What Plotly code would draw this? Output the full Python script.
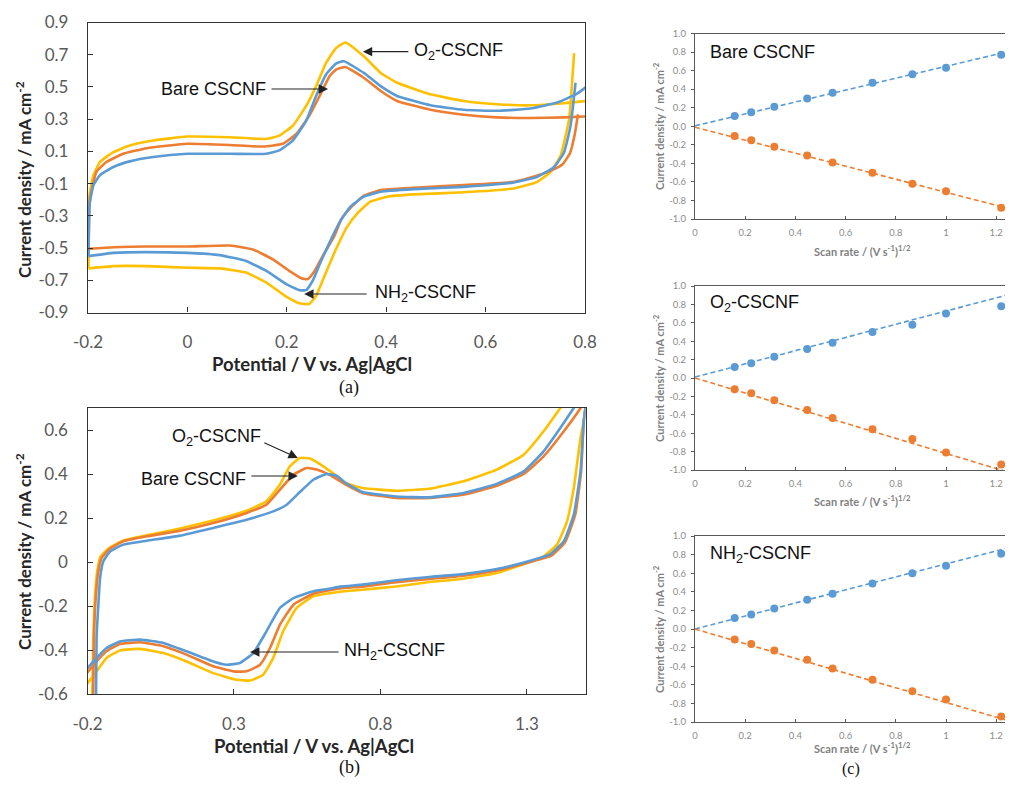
import plotly.graph_objects as go

BLUE = '#5B9BD5'
ORANGE = '#ED7D31'
YELLOW = '#FFC000'

# ---------------- Panel (a): CV, potential window -0.2 .. 0.8 V ----------------
a_bare_x = [-0.199, -0.198, -0.196, -0.183, -0.163, -0.129, -0.082, 0.0, 0.085, 0.152, 0.192, 0.219, 0.245, 0.266, 0.286, 0.299, 0.318, 0.355, 0.389, 0.422, 0.489, 0.556, 0.623, 0.69, 0.758, 0.81,
            None,
            0.786, 0.779, 0.77, 0.755, 0.738, 0.704, 0.657, 0.556, 0.456, 0.389, 0.355, 0.33, 0.31, 0.295, 0.274, 0.256, 0.242, 0.229, 0.205, 0.172, 0.132, 0.085, 0.0, -0.082, -0.149, -0.199]
a_bare_y = [-0.505, -0.30, -0.19, -0.027, 0.034, 0.085, 0.12, 0.147, 0.14, 0.13, 0.147, 0.208, 0.32, 0.444, 0.567, 0.608, 0.624, 0.557, 0.475, 0.413, 0.358, 0.327, 0.311, 0.307, 0.311, 0.318,
            None,
            0.33, 0.2, 0.09, 0.02, -0.01, -0.05, -0.089, -0.109, -0.126, -0.14, -0.175, -0.245, -0.32, -0.43, -0.54, -0.642, -0.693, -0.687, -0.642, -0.57, -0.509, -0.484, -0.49, -0.49, -0.495, -0.505]

a_nh2_x = [-0.199, -0.198, -0.197, -0.189, -0.176, -0.149, -0.116, -0.069, 0.0, 0.085, 0.159, 0.185, 0.212, 0.239, 0.259, 0.279, 0.299, 0.315, 0.355, 0.389, 0.422, 0.489, 0.556, 0.623, 0.69, 0.744, 0.785, 0.81,
           None,
           0.781, 0.771, 0.758, 0.738, 0.704, 0.657, 0.556, 0.456, 0.389, 0.355, 0.328, 0.308, 0.29, 0.269, 0.252, 0.239, 0.225, 0.199, 0.159, 0.118, 0.065, 0.0, -0.082, -0.149, -0.199]
a_nh2_y = [-0.55, -0.35, -0.232, -0.109, -0.048, 0.003, 0.038, 0.065, 0.085, 0.085, 0.085, 0.106, 0.167, 0.29, 0.444, 0.577, 0.645, 0.66, 0.587, 0.505, 0.444, 0.386, 0.358, 0.352, 0.366, 0.403, 0.46, 0.52,
           None,
           0.526, 0.26, 0.095, 0.003, -0.058, -0.093, -0.12, -0.134, -0.15, -0.181, -0.243, -0.33, -0.44, -0.58, -0.704, -0.761, -0.761, -0.724, -0.642, -0.58, -0.544, -0.53, -0.525, -0.53, -0.55]

a_o2_x = [-0.199, -0.198, -0.197, -0.189, -0.176, -0.149, -0.116, -0.069, 0.0, 0.085, 0.159, 0.185, 0.212, 0.239, 0.259, 0.279, 0.299, 0.318, 0.355, 0.389, 0.422, 0.489, 0.556, 0.623, 0.69, 0.758, 0.81,
          None,
          0.778, 0.768, 0.751, 0.731, 0.704, 0.657, 0.556, 0.456, 0.402, 0.368, 0.342, 0.321, 0.300, 0.279, 0.259, 0.245, 0.225, 0.199, 0.159, 0.118, 0.065, 0.0, -0.082, -0.149, -0.199]
a_o2_y = [-0.626, -0.35, -0.171, -0.048, 0.034, 0.095, 0.136, 0.167, 0.192, 0.188, 0.177, 0.198, 0.259, 0.382, 0.505, 0.649, 0.741, 0.776, 0.69, 0.587, 0.526, 0.454, 0.413, 0.393, 0.386, 0.399, 0.415,
          None,
          0.71, 0.30, 0.075, -0.027, -0.089, -0.13, -0.154, -0.167, -0.181, -0.212, -0.284, -0.37, -0.50, -0.65, -0.796, -0.847, -0.843, -0.802, -0.714, -0.652, -0.626, -0.622, -0.612, -0.612, -0.626]

a_xtickvals = [-0.2, 0.0, 0.2, 0.4, 0.6, 0.8]
a_xticktext = ['-0.2', '0', '0.2', '0.4', '0.6', '0.8']
a_ytickvals = [0.9, 0.7, 0.5, 0.3, 0.1, -0.1, -0.3, -0.5, -0.7, -0.9]
a_yticktext = ['0.9', '0.7', '0.5', '0.3', '0.1', '-0.1', '-0.3', '-0.5', '-0.7', '-0.9']

# ---------------- Panel (b): CV, potential window -0.2 .. 1.5 V ----------------
b_bare_x = [-0.182, -0.178, -0.172, -0.163, -0.152, -0.123, -0.078, 0.002, 0.116, 0.229, 0.343, 0.411, 0.457, 0.503, 0.548, 0.582, 0.628, 0.682, 0.739, 0.854, 0.968, 1.083, 1.197, 1.289, 1.357, 1.426, 1.483, 1.50,
            None,
            1.505, 1.494, 1.485, 1.465, 1.43, 1.385, 1.311, 1.197, 1.083, 0.968, 0.854, 0.739, 0.662, 0.571, 0.503, 0.457, 0.423, 0.389, 0.343, 0.298, 0.229, 0.138, 0.059, -0.021, -0.089, -0.135, -0.169, -0.205]
b_bare_y = [-0.75, -0.345, -0.164, -0.042, 0.018, 0.061, 0.094, 0.117, 0.142, 0.177, 0.223, 0.261, 0.329, 0.397, 0.427, 0.42, 0.395, 0.352, 0.314, 0.291, 0.291, 0.306, 0.347, 0.40, 0.48, 0.594, 0.70, 0.74,
            None,
            0.74, 0.639, 0.412, 0.215, 0.09, 0.03, 0.0, -0.038, -0.062, -0.077, -0.092, -0.112, -0.12, -0.144, -0.194, -0.285, -0.391, -0.467, -0.497, -0.497, -0.474, -0.421, -0.383, -0.365, -0.373, -0.406, -0.452, -0.51]

b_nh2_x = [-0.172, -0.169, -0.163, -0.157, -0.146, -0.123, -0.078, 0.002, 0.116, 0.229, 0.343, 0.434, 0.48, 0.525, 0.571, 0.616, 0.65, 0.682, 0.739, 0.854, 0.968, 1.083, 1.197, 1.289, 1.357, 1.414, 1.46, 1.49,
           None,
           1.505, 1.494, 1.483, 1.46, 1.426, 1.38, 1.311, 1.197, 1.083, 0.968, 0.854, 0.739, 0.662, 0.625, 0.571, 0.503, 0.457, 0.411, 0.366, 0.32, 0.275, 0.229, 0.138, 0.059, -0.021, -0.089, -0.135, -0.169, -0.205]
b_nh2_y = [-0.75, -0.345, -0.194, -0.073, 0.003, 0.048, 0.079, 0.097, 0.12, 0.155, 0.192, 0.23, 0.26, 0.318, 0.374, 0.40, 0.392, 0.359, 0.318, 0.298, 0.294, 0.314, 0.355, 0.412, 0.503, 0.609, 0.70, 0.76,
           None,
           0.76, 0.639, 0.412, 0.215, 0.094, 0.036, 0.006, -0.032, -0.055, -0.068, -0.083, -0.103, -0.112, -0.122, -0.133, -0.164, -0.209, -0.315, -0.414, -0.459, -0.467, -0.452, -0.406, -0.368, -0.353, -0.361, -0.391, -0.436, -0.49]

b_o2_x = [-0.186, -0.18, -0.174, -0.166, -0.155, -0.123, -0.078, 0.002, 0.116, 0.229, 0.343, 0.411, 0.457, 0.491, 0.525, 0.559, 0.605, 0.65, 0.682, 0.739, 0.854, 0.968, 1.083, 1.197, 1.289, 1.357, 1.414, 1.44,
          None,
          1.505, 1.494, 1.483, 1.46, 1.437, 1.403, 1.357, 1.3, 1.197, 1.083, 0.968, 0.854, 0.739, 0.662, 0.571, 0.514, 0.468, 0.434, 0.40, 0.355, 0.309, 0.229, 0.138, 0.059, -0.021, -0.089, -0.135, -0.169, -0.205]
b_o2_y = [-0.75, -0.345, -0.148, -0.035, 0.026, 0.067, 0.097, 0.121, 0.152, 0.189, 0.233, 0.276, 0.352, 0.435, 0.473, 0.47, 0.435, 0.392, 0.359, 0.336, 0.324, 0.333, 0.367, 0.42, 0.488, 0.594, 0.70, 0.75,
          None,
          0.76, 0.64, 0.564, 0.336, 0.185, 0.079, 0.026, -0.005, -0.05, -0.076, -0.091, -0.111, -0.126, -0.135, -0.156, -0.209, -0.315, -0.436, -0.512, -0.539, -0.535, -0.505, -0.452, -0.414, -0.395, -0.402, -0.436, -0.497, -0.56]

b_xtickvals = [-0.2, 0.3, 0.8, 1.3]
b_xticktext = ['-0.2', '0.3', '0.8', '1.3']
b_ytickvals = [0.6, 0.4, 0.2, 0.0, -0.2, -0.4, -0.6]
b_yticktext = ['0.6', '0.4', '0.2', '0', '-0.2', '-0.4', '-0.6']

# ---------------- Panel (c): peak current vs sqrt(scan rate) ----------------
sqrt_scan = [0.158, 0.224, 0.316, 0.447, 0.548, 0.707, 0.866, 1.0, 1.22]

bare_anodic = [0.11, 0.15, 0.21, 0.30, 0.36, 0.47, 0.56, 0.63, 0.77]
bare_cathodic = [-0.106, -0.15, -0.22, -0.315, -0.39, -0.50, -0.62, -0.70, -0.88]
o2_anodic = [0.12, 0.16, 0.23, 0.315, 0.384, 0.50, 0.58, 0.70, 0.78]
o2_cathodic = [-0.123, -0.167, -0.243, -0.348, -0.435, -0.558, -0.663, -0.81, -0.94]
nh2_anodic = [0.118, 0.157, 0.22, 0.314, 0.38, 0.49, 0.60, 0.68, 0.81]
nh2_cathodic = [-0.114, -0.16, -0.232, -0.33, -0.425, -0.546, -0.67, -0.757, -0.94]

fit_x = [0.0, 1.24]
bare_anodic_fit = [0.005, 0.80]
bare_cathodic_fit = [-0.01, -0.88]
o2_anodic_fit = [0.01, 0.90]
o2_cathodic_fit = [0.0, -1.017]
nh2_anodic_fit = [0.0, 0.868]
nh2_cathodic_fit = [0.0, -0.98]

c_xtickvals = [0, 0.2, 0.4, 0.6, 0.8, 1.0, 1.2]
c_xticktext = ['0', '0.2', '0.4', '0.6', '0.8', '1', '1.2']
c_ytickvals = [1.0, 0.8, 0.6, 0.4, 0.2, 0.0, -0.2, -0.4, -0.6, -0.8, -1.0]
c_yticktext = ['1.0', '0.8', '0.6', '0.4', '0.2', '0.0', '-0.2', '-0.4', '-0.6', '-0.8', '-1.0']

# ---------------- Figure ----------------
# The page body keeps the browser's 8 px margin: the figure is 16 px smaller than the
# window and reference pixel positions are shifted by 8 px.
OFF = 8
W, H = 1013 - 2 * OFF, 787 - 2 * OFF


def px(X):
    return min(max((X - OFF) / W, 0.0), 1.0)


def py(Y):
    return min(max(1 - (Y - OFF) / H, 0.0), 1.0)


fig = go.Figure()


def cv(x, y, color, xa, ya, name):
    fig.add_trace(go.Scatter(x=x, y=y, mode='lines', name=name, showlegend=False,
                             line=dict(color=color, width=2.6, shape='spline', smoothing=0.4),
                             xaxis=xa, yaxis=ya, connectgaps=False, hoverinfo='skip'))


cv(a_o2_x, a_o2_y, YELLOW, 'x', 'y', 'O2-CSCNF')
cv(a_bare_x, a_bare_y, ORANGE, 'x', 'y', 'Bare CSCNF')
cv(a_nh2_x, a_nh2_y, BLUE, 'x', 'y', 'NH2-CSCNF')

cv(b_o2_x, b_o2_y, YELLOW, 'x2', 'y2', 'O2-CSCNF')
cv(b_bare_x, b_bare_y, ORANGE, 'x2', 'y2', 'Bare CSCNF')
cv(b_nh2_x, b_nh2_y, BLUE, 'x2', 'y2', 'NH2-CSCNF')

c_sets = [
    ('x3', 'y3', bare_anodic, bare_cathodic, bare_anodic_fit, bare_cathodic_fit),
    ('x4', 'y4', o2_anodic, o2_cathodic, o2_anodic_fit, o2_cathodic_fit),
    ('x5', 'y5', nh2_anodic, nh2_cathodic, nh2_anodic_fit, nh2_cathodic_fit),
]
for xa, ya, an, ca, anf, caf in c_sets:
    fig.add_trace(go.Scatter(x=fit_x, y=anf, mode='lines', showlegend=False, hoverinfo='skip',
                             line=dict(color=BLUE, width=1.6, dash='5px,3px'), xaxis=xa, yaxis=ya))
    fig.add_trace(go.Scatter(x=fit_x, y=caf, mode='lines', showlegend=False, hoverinfo='skip',
                             line=dict(color=ORANGE, width=1.6, dash='5px,3px'), xaxis=xa, yaxis=ya))
    fig.add_trace(go.Scatter(x=sqrt_scan, y=an, mode='markers', showlegend=False, cliponaxis=False,
                             marker=dict(color=BLUE, size=8), xaxis=xa, yaxis=ya))
    fig.add_trace(go.Scatter(x=sqrt_scan, y=ca, mode='markers', showlegend=False, cliponaxis=False,
                             marker=dict(color=ORANGE, size=8), xaxis=xa, yaxis=ya))

AX = '#333333'
TICKF = dict(family='Lato, Carlito, sans-serif', size=17, color='#595959')
CTICKF = dict(family='Lato, Carlito, sans-serif', size=9.5, color='#8c8c8c')


def cv_xaxis(dom, rng, tv, tt, anchor):
    return dict(domain=dom, range=rng, tickvals=tv, ticktext=tt, ticks='inside', ticklen=5,
                tickcolor=AX, tickwidth=1.2, showline=True, linecolor=AX, linewidth=1.3, mirror=True,
                showgrid=False, zeroline=False, tickfont=TICKF, ticklabelstandoff=14, anchor=anchor,
                fixedrange=True, automargin=False)


def cv_yaxis(dom, rng, tv, tt, anchor):
    return dict(domain=dom, range=rng, tickvals=tv, ticktext=tt, ticks='inside', ticklen=5,
                tickcolor=AX, tickwidth=1.2, showline=True, linecolor=AX, linewidth=1.3, mirror=True,
                showgrid=False, zeroline=False, tickfont=TICKF, ticklabelstandoff=15, anchor=anchor,
                fixedrange=True, automargin=False)


def c_xaxis(dom, anchor):
    return dict(domain=dom, range=[0, 1.235], tickvals=c_xtickvals, ticktext=c_xticktext,
                ticks='inside', ticklen=3, tickcolor='#595959', showline=True, linecolor='#595959',
                linewidth=1.3, mirror=True, showgrid=False, zeroline=False, tickfont=CTICKF,
                ticklabelstandoff=4, anchor=anchor, fixedrange=True, automargin=False)


def c_yaxis(dom, anchor):
    return dict(domain=dom, range=[-1.0, 1.0], tickvals=c_ytickvals, ticktext=c_yticktext,
                ticks='outside', ticklen=3, tickcolor='#595959', showline=True, linecolor='#595959',
                linewidth=1.3, mirror=False, showgrid=False, zeroline=False, tickfont=CTICKF,
                ticklabelstandoff=3, anchor=anchor, fixedrange=True, automargin=False)


cx_dom = [px(695), 1.0]

fig.update_layout(
    width=W, height=H, margin=dict(l=0, r=0, t=0, b=0, pad=0), autosize=False,
    paper_bgcolor='white', plot_bgcolor='white', showlegend=False,
    xaxis=cv_xaxis([px(88), px(585)], [-0.2, 0.8], a_xtickvals, a_xticktext, 'y'),
    yaxis=cv_yaxis([py(312.5), py(22.5)], [-0.9, 0.9], a_ytickvals, a_yticktext, 'x'),
    xaxis2=cv_xaxis([px(87.5), px(585.5)], [-0.2, 1.5], b_xtickvals, b_xticktext, 'y2'),
    yaxis2=cv_yaxis([py(694), py(408)], [-0.6, 0.7], b_ytickvals, b_yticktext, 'x2'),
    xaxis3=c_xaxis(cx_dom, 'y3'),
    yaxis3=c_yaxis([py(219), py(33.5)], 'x3'),
    xaxis4=c_xaxis(cx_dom, 'y4'),
    yaxis4=c_yaxis([py(470), py(286)], 'x4'),
    xaxis5=c_xaxis(cx_dom, 'y5'),
    yaxis5=c_yaxis([py(722), py(536)], 'x5'),
)

ann = []
TITLEF = dict(family='Lato, Carlito, sans-serif', size=17, color='#262626')
XTITLEF = dict(family='Lato, Carlito, sans-serif', size=18.5, color='#262626')
CTITLEF = dict(family='Lato, Carlito, sans-serif', size=11, color='#7f7f7f')
LABELF = dict(family='Liberation Sans, Arial, sans-serif', size=18, color='#111111')
PANELF = dict(family='Liberation Serif, Times New Roman, serif', size=18, color='#111111')
PANELF_SMALL = dict(family='Liberation Serif, Times New Roman, serif', size=16, color='#111111')


def paper_text(X, Y, text, font, angle=0, xanchor='center'):
    ann.append(dict(x=px(X), y=py(Y), xref='paper', yref='paper', text=text, showarrow=False,
                    font=font, textangle=angle, xanchor=xanchor, yanchor='middle'))


# axis titles and panel letters
paper_text(312, 364, '<b>Potential / V vs. Ag|AgCl</b>', XTITLEF)
paper_text(23, 180, '<b>Current density / mA cm<sup>-2</sup></b>', TITLEF, angle=-90)
paper_text(349, 387, '(a)', PANELF)
paper_text(314, 746, '<b>Potential / V vs. Ag|AgCl</b>', XTITLEF)
paper_text(23, 552, '<b>Current density / mA cm<sup>-2</sup></b>', TITLEF, angle=-90)
paper_text(349, 767, '(b)', PANELF)

for yc, yt in [(126, 250), (378, 501), (629, 747)]:
    paper_text(658, yc, '<b>Current density / mA cm<sup>-2</sup></b>', CTITLEF, angle=-90)
    paper_text(862, yt, '<b>Scan rate / (V s<sup>-1</sup>)<sup>1/2</sup></b>', CTITLEF)
paper_text(851, 769, '(c)', PANELF_SMALL)

paper_text(708, 52, 'Bare CSCNF', LABELF, xanchor='left')
paper_text(708, 303, 'O<sub>2</sub>-CSCNF', LABELF, xanchor='left')
paper_text(708, 554, 'NH<sub>2</sub>-CSCNF', LABELF, xanchor='left')


def data_text(x, y, xref, yref, text, xanchor):
    ann.append(dict(x=x, y=y, xref=xref, yref=yref, text=text, showarrow=False, font=LABELF,
                    xanchor=xanchor, yanchor='middle'))


def arrow(x, y, xref, yref, ax, ay):
    ann.append(dict(x=x, y=y, xref=xref, yref=yref, text='', showarrow=True, ax=ax, ay=ay,
                    arrowhead=2, arrowsize=1.7, arrowwidth=1.1, arrowcolor='#222222', standoff=0))


# panel (a) labels
data_text(0.452, 0.717, 'x', 'y', 'O<sub>2</sub>-CSCNF', 'left')
arrow(0.353, 0.719, 'x', 'y', 47, 0)
data_text(0.162, 0.487, 'x', 'y', 'Bare CSCNF', 'right')
arrow(0.283, 0.487, 'x', 'y', -58, 0)
data_text(0.373, -0.785, 'x', 'y', 'NH<sub>2</sub>-CSCNF', 'left')
arrow(0.235, -0.785, 'x', 'y', 64, 0)

# panel (b) labels
data_text(0.082, 0.568, 'x2', 'y2', 'O<sub>2</sub>-CSCNF', 'left')
arrow(0.518, 0.473, 'x2', 'y2', -35, -16)
data_text(0.348, 0.377, 'x2', 'y2', 'Bare CSCNF', 'right')
arrow(0.518, 0.391, 'x2', 'y2', -48, 0)
data_text(0.669, -0.409, 'x2', 'y2', 'NH<sub>2</sub>-CSCNF', 'left')
arrow(0.355, -0.409, 'x2', 'y2', 90, 0)

fig.update_layout(annotations=ann)

fig.write_html("out.html", config={'displayModeBar': False})
